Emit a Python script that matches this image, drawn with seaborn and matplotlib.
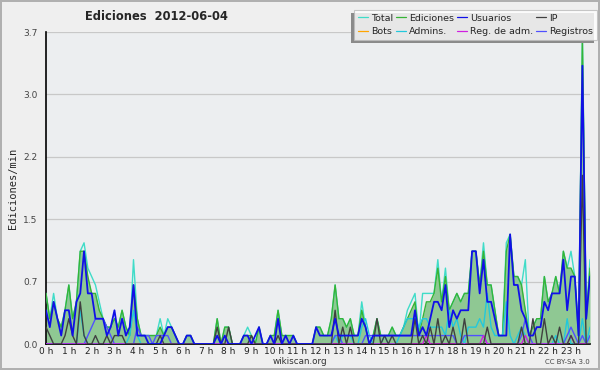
import numpy as np
import matplotlib
matplotlib.use("Agg")
import matplotlib.pyplot as plt
import seaborn as sns
from matplotlib.ticker import MultipleLocator, FixedLocator
from matplotlib.patches import Rectangle

# edits per minute, 10-minute bins (values in tenths)
ediciones = [6, 3, 5, 3, 2, 4, 7, 3, 5, 11, 11, 8,
             6, 6, 4, 3, 2, 2, 3, 2, 4, 2, 1, 7,
             3, 1, 1, 1, 1, 1, 2, 1, 2, 2, 1, 0,
             0, 1, 1, 0, 0, 0, 0, 0, 0, 3, 0, 2,
             2, 0, 0, 0, 1, 1, 1, 0, 2, 0, 0, 1,
             1, 4, 1, 1, 1, 1, 0, 0, 0, 0, 0, 2,
             2, 1, 1, 3, 7, 3, 3, 2, 3, 1, 1, 4,
             2, 0, 1, 3, 1, 1, 1, 2, 1, 1, 2, 3,
             4, 5, 1, 3, 5, 5, 6, 9, 5, 8, 4, 5,
             6, 5, 6, 6, 11, 11, 7, 11, 7, 7, 4, 1,
             1, 11, 13, 8, 8, 7, 4, 1, 2, 3, 3, 8,
             5, 6, 8, 6, 11, 9, 9, 8, 1, 36, 3, 9]
total_extra = {2: 1, 10: 1, 11: 1, 12: 2, 13: 1, 14: 1, 23: 3, 30: 1, 32: 1,
               53: 1, 83: 1, 95: 1, 96: 1, 97: 1, 99: 3, 100: 1, 101: 1,
               103: 1, 105: 1, 115: 1, 121: 1, 126: 6, 138: 2, 141: 1, 143: 1}
usuarios = [4, 2, 5, 3, 1, 4, 4, 1, 5, 6, 11, 6,
            6, 3, 3, 3, 1, 2, 4, 1, 3, 1, 2, 7,
            1, 1, 1, 0, 0, 0, 0, 1, 2, 2, 1, 0,
            0, 1, 1, 0, 0, 0, 0, 0, 0, 1, 0, 1,
            0, 0, 0, 0, 1, 1, 0, 1, 2, 0, 0, 1,
            0, 3, 0, 1, 0, 1, 0, 0, 0, 0, 0, 2,
            1, 1, 1, 1, 3, 1, 1, 1, 1, 1, 1, 3,
            2, 0, 1, 1, 1, 1, 1, 1, 1, 1, 1, 1,
            1, 4, 1, 2, 1, 3, 5, 5, 4, 7, 2, 4,
            3, 4, 4, 4, 11, 11, 6, 10, 5, 5, 3, 1,
            1, 1, 13, 7, 7, 4, 3, 1, 1, 2, 2, 5,
            4, 6, 6, 6, 10, 4, 8, 8, 1, 33, 3, 8]
ip = [2, 1, 0, 0, 0, 1, 3, 1, 0, 5, 1, 0,
      0, 1, 0, 0, 1, 0, 1, 1, 1, 0, 0, 0,
      0, 0, 0, 0, 0, 0, 1, 0, 0, 0, 0, 0,
      0, 0, 0, 0, 0, 0, 0, 0, 0, 2, 0, 0,
      2, 0, 0, 0, 0, 0, 1, 0, 0, 0, 0, 0,
      0, 1, 0, 0, 0, 0, 0, 0, 0, 0, 0, 0,
      0, 0, 0, 0, 4, 0, 2, 0, 2, 0, 0, 0,
      0, 0, 0, 3, 0, 1, 0, 1, 0, 0, 0, 0,
      0, 3, 0, 1, 0, 2, 0, 3, 0, 1, 0, 2,
      0, 0, 3, 0, 0, 0, 0, 0, 2, 0, 0, 0,
      0, 0, 0, 0, 0, 2, 0, 0, 3, 0, 0, 3,
      0, 1, 0, 2, 0, 0, 1, 0, 0, 20, 0, 0]
admins = [0, 0, 0, 0, 0, 0, 0, 0, 0, 4, 1, 0,
          0, 0, 0, 0, 0, 0, 0, 0, 0, 0, 1, 4,
          1, 0, 0, 0, 0, 0, 0, 0, 0, 0, 0, 0,
          0, 0, 0, 0, 0, 0, 0, 0, 0, 0, 0, 0,
          0, 0, 0, 0, 0, 0, 0, 0, 0, 0, 0, 0,
          0, 0, 0, 0, 0, 0, 0, 0, 0, 0, 0, 0,
          0, 0, 0, 0, 1, 0, 1, 1, 1, 0, 0, 2,
          3, 1, 0, 0, 0, 1, 0, 0, 0, 1, 2, 3,
          3, 3, 2, 3, 3, 2, 2, 2, 2, 1, 4, 2,
          3, 1, 0, 2, 2, 2, 3, 2, 6, 2, 1, 1,
          1, 5, 1, 0, 1, 2, 1, 0, 0, 0, 0, 0,
          0, 0, 1, 0, 0, 3, 0, 0, 0, 3, 0, 2]
registros = [0, 0, 0, 0, 0, 0, 0, 0, 0, 0, 0, 1,
             2, 3, 3, 3, 2, 1, 0, 0, 0, 0, 0, 0,
             2, 1, 1, 1, 0, 1, 1, 1, 1, 0, 0, 0,
             0, 0, 0, 0, 0, 0, 0, 0, 0, 0, 0, 0,
             0, 0, 0, 0, 0, 0, 0, 0, 0, 0, 0, 0,
             0, 0, 0, 0, 0, 0, 0, 0, 0, 0, 0, 0,
             0, 0, 0, 0, 1, 1, 0, 0, 0, 0, 0, 0,
             1, 1, 1, 1, 1, 1, 1, 1, 1, 1, 1, 1,
             1, 1, 1, 1, 1, 1, 1, 1, 1, 1, 1, 1,
             0, 0, 1, 1, 1, 1, 1, 1, 0, 0, 0, 0,
             0, 0, 0, 0, 0, 1, 3, 1, 0, 0, 0, 0,
             0, 0, 0, 0, 0, 1, 2, 1, 0, 1, 0, 1]
reg_adm_bins = [100, 115, 126, 138]
hour_labels = [f"{h} h" for h in range(24)]

n = len(ediciones)
x = np.arange(n)
e = np.array(ediciones) / 10
t = e + np.array([total_extra.get(i, 0) for i in range(n)]) / 10
u = np.array(usuarios) / 10
i_p = np.array(ip) / 10
a = np.array(admins) / 10
r = np.array(registros) / 10
m = np.zeros(n)
m[reg_adm_bins] = 0.1
bots = np.zeros(n)

sns.set_style("white")
plt.rcParams['font.family'] = ['DejaVu Sans']

fig = plt.figure(figsize=(6, 3.7), dpi=100, facecolor='#efefef',
                 edgecolor='#b0b0b0', linewidth=1.5)
ax = fig.add_axes([46/600, 1 - 344/370, 544/600, 312/370])
ax.set_facecolor('#eceef0')

ax.fill_between(x, e, color='#8fc893', alpha=1, lw=0, zorder=1)
sns.lineplot(x=x, y=bots, color='#ffa500', lw=1, ax=ax, zorder=2)
sns.lineplot(x=x, y=t, color='#3fdcc8', lw=1, ax=ax, zorder=3)
sns.lineplot(x=x, y=e, color='#36b436', lw=1, ax=ax, zorder=4)
sns.lineplot(x=x, y=a, color='#22c8dc', lw=1, ax=ax, zorder=5)
sns.lineplot(x=x, y=r, color='#5050ff', lw=1, ax=ax, zorder=6)
sns.lineplot(x=x, y=m, color='#d020e0', lw=1, ax=ax, zorder=7)
sns.lineplot(x=x, y=i_p, color='#404040', lw=1, ax=ax, zorder=8)
sns.lineplot(x=x, y=u, color='#1010e8', lw=1.3, ax=ax, zorder=9)

ax.set_xlim(0, n - 1)
ax.set_ylim(0, 3.7)
yt = [0, 0.74, 1.48, 2.22, 2.96, 3.7]
ax.yaxis.set_major_locator(FixedLocator(yt))
ax.set_yticklabels(['0.0', '0.7', '1.5', '2.2', '3.0', '3.7'], color='#444444', fontsize=6.5)
ax.yaxis.set_minor_locator(MultipleLocator(0.185))
ax.grid(axis='y', color='#c8c8c8', lw=0.9, zorder=0)
ax.set_axisbelow(True)
ax.xaxis.set_major_locator(FixedLocator(np.arange(0, 144, 6)))
ax.set_xticklabels(hour_labels, fontsize=6.5, color='#222222')
ax.xaxis.set_minor_locator(MultipleLocator(1))
ax.tick_params(axis='x', which='both', direction='out', length=3, width=0.8,
               color='black', pad=-0.5)
ax.tick_params(axis='y', which='major', direction='out', length=5, width=0.8, pad=1)
ax.tick_params(axis='y', which='minor', direction='out', length=3, width=0.8)
for s in ['top', 'right']:
    ax.spines[s].set_visible(False)
for s in ['left', 'bottom']:
    ax.spines[s].set_color('black')
    ax.spines[s].set_linewidth(1.2)
ax.set_ylabel('Ediciones/min', family='DejaVu Sans Mono', fontsize=7.5, labelpad=4)
ax.set_xlabel('')

fig.text(85/600, 1 - 17/370, 'Ediciones  2012-06-04', fontsize=8.3,
         fontweight='bold', va='center', ha='left')
fig.text(300/600, 1 - 362/370, 'wikiscan.org', fontsize=6.3, ha='center',
         va='center', color='#333333')
fig.text(590/600, 1 - 362/370, 'CC BY-SA 3.0', fontsize=5, ha='right',
         va='center', color='#444444')

handles = ax.get_lines()
names = ['Bots', 'Total', 'Ediciones', 'Admins.', 'Registros', 'Reg. de adm.',
         'IP', 'Usuarios']
hmap = dict(zip(names, handles[:8]))
order = ['Total', 'Bots', 'Ediciones', 'Admins.', 'Usuarios', 'Reg. de adm.',
         'IP', 'Registros']
leg = fig.legend([hmap[k] for k in order], order, ncol=4, loc='upper right',
                 bbox_to_anchor=(597/600, 1 - 10/370), fontsize=6.8,
                 frameon=True, fancybox=False, shadow=False, handlelength=1.1,
                 handletextpad=0.3, columnspacing=0.3, labelspacing=0.45,
                 borderpad=0.4, borderaxespad=0)
leg.get_frame().set_edgecolor('#bbbbbb')
leg.get_frame().set_linewidth(0.8)
for ln in leg.get_lines():
    ln.set_linewidth(0.9)

# shadow to the lower left of the legend box
fig.canvas.draw()
bb = leg.get_window_extent().transformed(fig.transFigure.inverted())
fig.patches.append(Rectangle((bb.x0 - 3/600, bb.y0 - 3/370), bb.width, bb.height,
                             transform=fig.transFigure, facecolor='#8a8a8a',
                             edgecolor='none', zorder=0))
leg.set_zorder(5)

fig.savefig('out.png', dpi=100, facecolor=fig.get_facecolor(),
            edgecolor=fig.get_edgecolor())
